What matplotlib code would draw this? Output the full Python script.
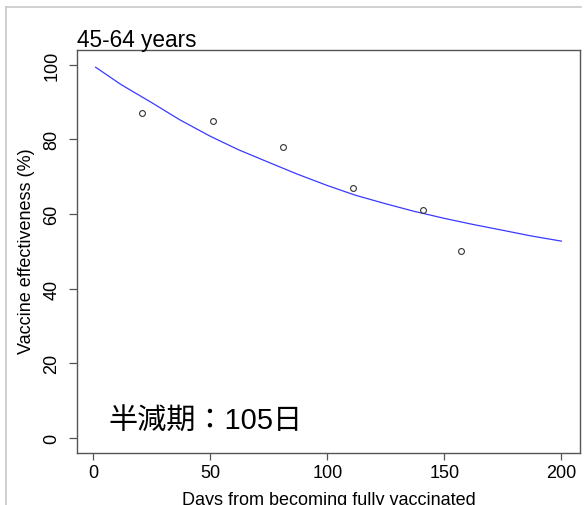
import numpy as np
import matplotlib
matplotlib.use('Agg')
import matplotlib.pyplot as plt
from matplotlib.lines import Line2D

# Dados observados (pontos)
dias_obs = [21, 51, 81, 111, 141, 157]
ve_obs = [87, 85, 78, 67, 61, 50]

# Curva ajustada
dias_fit = [1, 12, 25, 37, 50, 62, 75, 87, 100, 112, 125, 137, 150, 162, 175, 187, 200]
ve_fit = [99.3, 94.6, 89.8, 85.2, 80.8, 77.2, 73.8, 70.7, 67.6, 65.0, 62.7, 60.7, 58.8, 57.2, 55.6, 54.1, 52.7]

xticks = [0, 50, 100, 150, 200]
yticks = [0, 20, 40, 60, 80, 100]

plt.rcParams['font.family'] = ['Liberation Sans', 'Noto Sans CJK JP', 'DejaVu Sans']

W, H = 587, 506
fig = plt.figure(figsize=(W / 100, H / 100), dpi=100)
fig.patch.set_facecolor('white')

# moldura cinza (topo e esquerda)
fig.add_artist(Line2D([6 / W, 581 / W], [1 - 8 / H, 1 - 8 / H], color='#c8c8c8', lw=1.2))
fig.add_artist(Line2D([6 / W, 6 / W], [1 - 8 / H, 0], color='#c8c8c8', lw=1.2))

ax = fig.add_axes([77 / W, 1 - 453.7 / H, (580 - 77) / W, (453.7 - 50.7) / H])
ax.plot(dias_fit, ve_fit, color='#3a3aff', lw=0.9)
ax.plot(dias_obs, ve_obs, 'o', mfc='none', mec='#333333', ms=4.2, mew=0.8)

ax.set_xlim(1 - 0.04 * 199, 200 + 0.04 * 199)
ax.set_ylim(-4, 104)
ax.set_xticks(xticks)
ax.set_yticks(yticks)
ax.set_yticklabels([str(v) for v in yticks], rotation=90, va='center')
ax.tick_params(axis='x', length=5, width=0.9, color='#555555', labelsize=13, pad=3)
ax.tick_params(axis='y', length=5.8, width=0.9, color='#555555', labelsize=13, pad=6)
for s in ax.spines.values():
    s.set_color('#555555')
    s.set_linewidth(1)

# titulo e rotulos dos eixos
fig.text(77 / W, 1 - 46.5 / H, '45-64 years', fontsize=16.3, ha='left', va='baseline')
fig.text(27 / W, 1 - 251 / H, 'Vaccine effectiveness (%)', fontsize=13, rotation=90,
         ha='center', va='center')
fig.text(328.5 / W, 1 - 505 / H, 'Days from becoming fully vaccinated', fontsize=13,
         ha='center', va='baseline')

# anotacao da meia-vida
ax.text(6.3, 2.3, '半減期：105日', fontsize=21, ha='left', va='baseline')

fig.savefig('out.png', dpi=100)
